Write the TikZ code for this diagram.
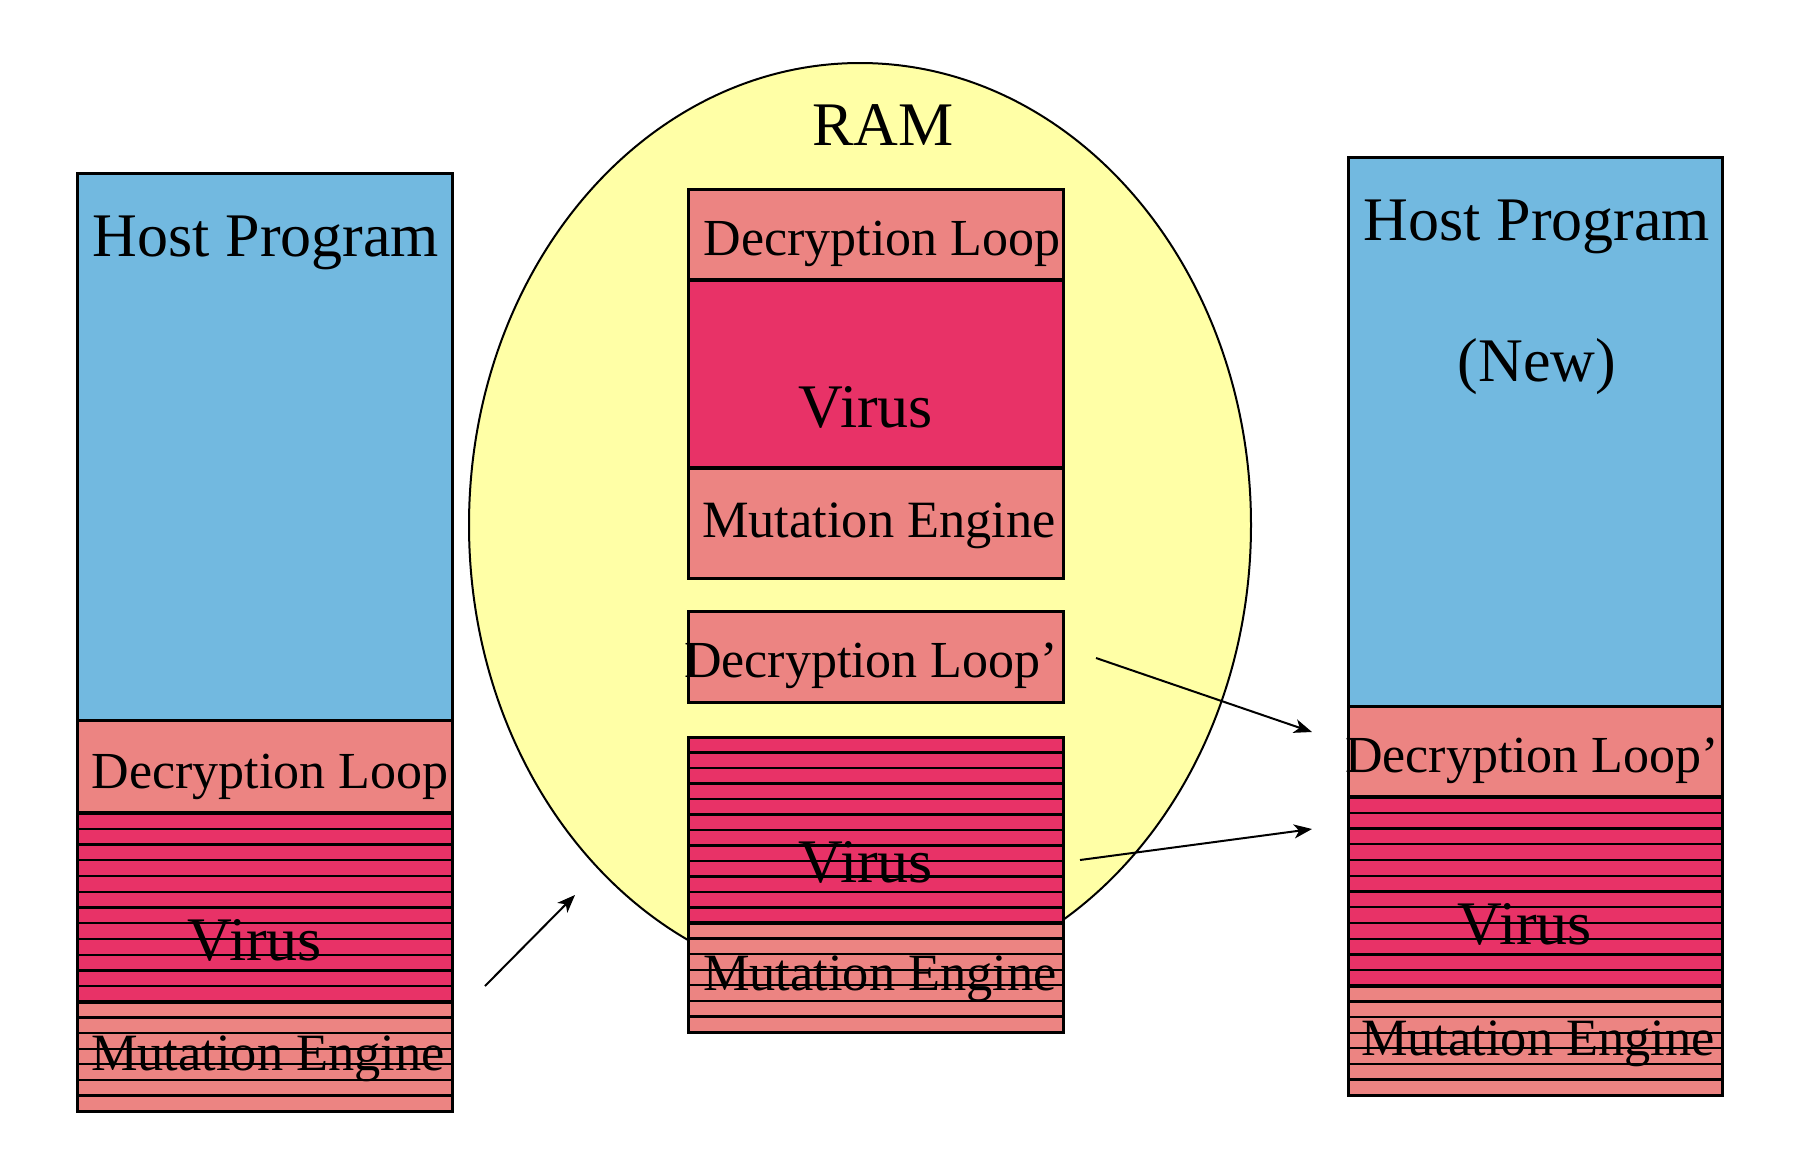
\documentclass[tikz,border=0pt]{standalone}
\usepackage{fontspec}
\setmainfont{Liberation Serif}
\usetikzlibrary{arrows.meta}
\definecolor{hostblue}{RGB}{114,185,224}
\definecolor{looprose}{RGB}{236,132,130}
\definecolor{virred}{RGB}{232,50,103}
\definecolor{ramyellow}{RGB}{255,255,166}
% horizontal stripes inside a block: x1, ytop, x2, ybottom, number of gaps
\newcommand{\stripes}[5]{%
  \foreach \k in {1,...,#5}
    \draw[stripeln] (#1,{#2+\k*(#4-#2)/(#5+1)}) -- (#3,{#2+\k*(#4-#2)/(#5+1)});}
\begin{document}
\begin{tikzpicture}[x=0.5pt,y=-0.5pt,line join=miter,
  blk/.style={draw=black,line width=1.5pt},
  sepln/.style={line width=2.3pt},
  stripeln/.style={line width=1.1pt},
  bigtxt/.style={font=\fontsize{31}{31}\selectfont,anchor=base,inner sep=0pt},
  looptxt/.style={font=\fontsize{26}{26}\selectfont,anchor=base,inner sep=0pt},
  engtxt/.style={font=\fontsize{26.2}{26.2}\selectfont,anchor=base,inner sep=0pt},
  copyarrow/.style={line width=1pt,-{Stealth[length=9pt,width=7pt,inset=2.5pt]}}]
\useasboundingbox (0,0) rectangle (1794,1168);
% left: infected program on disk
\draw[blk,fill=hostblue] (77,173) rectangle (452,720);
\draw[blk,fill=looprose] (77,720) rectangle (452,813);
\draw[blk,fill=virred] (77,813) rectangle (452,1002);
\stripes{77}{813}{452}{1002}{11}
\draw[blk,fill=looprose] (77,1002) rectangle (452,1111);
\stripes{77}{1002}{452}{1111}{6}
\draw[sepln] (77,813) -- (452,813);
\draw[sepln] (77,1002) -- (452,1002);
\node[bigtxt] (lhost) at (266,256) {Host Program};
\node[looptxt] (ldec) at (270,788) {Decryption Loop};
\node[bigtxt] (lvir) at (255,960) {Virus};
\node[engtxt] (lmut) at (268,1070) {Mutation Engine};
% middle: RAM
\draw[line width=1pt,fill=ramyellow] (860,525) ellipse [x radius=195.5pt,y radius=231pt];
\node[bigtxt] (ram) at (883,145) {RAM};
\draw[blk,fill=looprose] (688,189) rectangle (1063,280);
\draw[blk,fill=virred] (688,280) rectangle (1063,468);
\draw[blk,fill=looprose] (688,468) rectangle (1063,578);
\draw[sepln] (688,280) -- (1063,280);
\draw[sepln] (688,468) -- (1063,468);
\node[looptxt] (mdec) at (882,255) {Decryption Loop};
\node[bigtxt] (mvir) at (866,427) {Virus};
\node[engtxt] (mmut) at (879,537) {Mutation Engine};
\draw[blk,fill=looprose] (688,611) rectangle (1063,702);
\node[looptxt] (mdecn) at (871,677) {Decryption Loop’};
\draw[blk,fill=virred] (688,737) rectangle (1063,923);
\stripes{688}{737}{1063}{923}{11}
\draw[blk,fill=looprose] (688,923) rectangle (1063,1032);
\stripes{688}{923}{1063}{1032}{6}
\draw[sepln] (688,923) -- (1063,923);
\node[bigtxt] (mvirn) at (866,882) {Virus};
\node[engtxt] (mmutn) at (880,990) {Mutation Engine};
% right: new infected program
\draw[blk,fill=hostblue] (1348,157) rectangle (1722,706);
\draw[blk,fill=looprose] (1348,706) rectangle (1722,797);
\draw[blk,fill=virred] (1348,797) rectangle (1722,986);
\stripes{1348}{797}{1722}{986}{11}
\draw[blk,fill=looprose] (1348,986) rectangle (1722,1095);
\stripes{1348}{986}{1722}{1095}{6}
\draw[sepln] (1348,797) -- (1722,797);
\draw[sepln] (1348,986) -- (1722,986);
\node[bigtxt] (rhost) at (1537,240) {Host Program};
\node[bigtxt] (rnew) at (1537,381) {(New)};
\node[looptxt] (rdec) at (1532,772) {Decryption Loop’};
\node[bigtxt] (rvir) at (1525,944) {Virus};
\node[engtxt] (rmut) at (1538,1055) {Mutation Engine};
% arrows
\coordinate (loadfrom) at (485,986);
\coordinate (loadto) at (575,895);
\coordinate (loopfrom) at (1096,658);
\coordinate (loopto) at (1312,732);
\coordinate (virfrom) at (1080,860);
\coordinate (virto) at (1312,829);
\draw[copyarrow] (loadfrom) -- (loadto);
\draw[copyarrow] (loopfrom) -- (loopto);
\draw[copyarrow] (virfrom) -- (virto);
\end{tikzpicture}
\end{document}
